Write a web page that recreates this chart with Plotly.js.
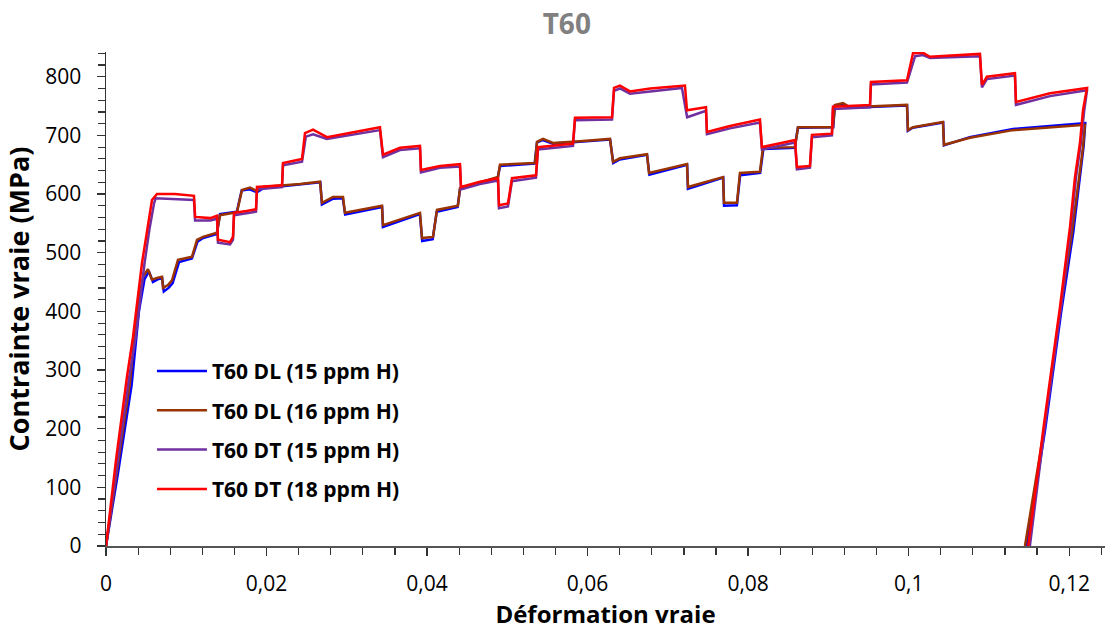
<!DOCTYPE html>
<html>
<head>
<meta charset="utf-8">
<script src="https://cdn.plot.ly/plotly-3.0.1.min.js"></script>
<style>html,body{margin:0;padding:0;background:#fff;}#chart{width:1107px;height:631px;}</style>
</head>
<body>
<div id="chart"></div>
<script>
// Series names
const seriesNames = ["T60 DL (15 ppm H)", "T60 DL (16 ppm H)", "T60 DT (15 ppm H)", "T60 DT (18 ppm H)"];
const seriesColors = ["#0000FF", "#993300", "#7030A0", "#FF0000"];

// T60 DL (15 ppm H) — blue
const dl15Strain = [0,0.0015,0.0032,0.0041,0.0048,0.00535,0.00585,0.0065,0.007,0.0072,0.0078,0.0083,0.0091,0.0107,0.0114,0.0121,0.0138,0.0142,0.0163,0.0169,0.0179,0.0188,0.0196,0.0242,0.0267,0.0269,0.0283,0.0295,0.0298,0.0344,0.0345,0.0391,0.0394,0.0407,0.0412,0.0438,0.0441,0.0488,0.0491,0.0534,0.0537,0.0544,0.0557,0.0590,0.0628,0.0632,0.0640,0.0674,0.0677,0.0724,0.0725,0.0769,0.0770,0.0786,0.0790,0.0815,0.0819,0.0858,0.0862,0.0906,0.0908,0.0918,0.0927,0.0998,0.0999,0.1005,0.1043,0.1044,0.1076,0.1130,0.1220,0.1218,0.1211,0.1205,0.1190,0.1170,0.1147];
const dl15Stress = [0,125,275,400,455,468,450,455,456,434,440,448,484,490,519,525,532,566,570,606,608,603,610,616,620,582,592,593,565,578,544,566,520,523,570,578,608,628,648,652,688,692,686,689,693,653,659,667,633,650,609,628,580,581,632,636,677,679,713,714,751,753,747,751,708,713,722,683,697,711,721,682,602,534,399,198,0];

// T60 DL (16 ppm H) — brown
const dl16Strain = [0,0.0014,0.0030,0.0039,0.00461,0.00523,0.00573,0.00635,0.00698,0.0071,0.00772,0.00822,0.00897,0.01071,0.01134,0.01208,0.01383,0.0142,0.01632,0.01694,0.01794,0.01881,0.01956,0.02417,0.02666,0.02691,0.02828,0.02953,0.02977,0.03438,0.03451,0.03912,0.03937,0.04074,0.04124,0.04385,0.0441,0.04884,0.04908,0.05344,0.0537,0.05444,0.05569,0.05905,0.06279,0.06316,0.06403,0.0674,0.06765,0.07238,0.07251,0.07687,0.07699,0.07861,0.07898,0.08147,0.08185,0.08584,0.08621,0.09057,0.09082,0.09182,0.09269,0.09979,0.09991,0.10054,0.10427,0.1044,0.10764,0.11299,0.12196,0.12172,0.12097,0.12034,0.11885,0.11686,0.11449];
const dl16Stress = [0,130,280,407,459,472,454,457,459,440,445,453,488,493,522,527,534,564,569,607,611,605,612,617,621,585,595,595,568,580,547,568,525,527,573,580,610,629,650,653,689,694,687,690,694,655,661,668,636,651,612,629,585,585,636,638,679,680,714,714,752,755,748,752,709,714,723,684,696,709,718,680,602,534,399,198,0];

// T60 DT (15 ppm H) — purple
const dt15Strain = [0,0.0014,0.0029,0.0037,0.0048,0.0054,0.0060,0.0062,0.0086,0.01096,0.0111,0.0130,0.01383,0.01395,0.01545,0.01582,0.01595,0.01869,0.01881,0.02193,0.02205,0.02442,0.0249,0.0258,0.0275,0.0304,0.03413,0.03451,0.03663,0.03912,0.03924,0.04161,0.0441,0.04423,0.04659,0.04884,0.04896,0.05008,0.05058,0.05357,0.05382,0.05818,0.05843,0.06304,0.06329,0.06403,0.06528,0.0678,0.0715,0.07175,0.0724,0.07475,0.07487,0.07774,0.08147,0.08172,0.08584,0.08608,0.0877,0.08795,0.09044,0.09057,0.09518,0.0953,0.09979,0.1008,0.10178,0.10265,0.10888,0.10913,0.10975,0.11324,0.11337,0.11761,0.12222,0.12185,0.12145,0.12085,0.12022,0.1196,0.11898,0.117,0.1151];
const dt15Stress = [0,140,289,356,482,539,585,593,592,590,555,555,558,517,514,522,564,570,608,612,649,655,698,702,694,700,709,663,675,678,637,645,647,608,617,623,576,579,622,628,676,682,726,727,776,780,771,775,781,781,731,742,702,712,722,676,688,642,645,697,700,745,748,787,790,835,837,832,835,782,796,802,752,767,777,740,687,629,544,476,407,208,0];

// T60 DT (18 ppm H) — red
const dt18Strain = [0,0.00125,0.00262,0.00336,0.00448,0.0051,0.00573,0.00635,0.0086,0.01096,0.0111,0.0130,0.01383,0.01395,0.01545,0.01582,0.01595,0.0175,0.01869,0.01881,0.02193,0.02205,0.02442,0.02479,0.02579,0.02753,0.0304,0.03413,0.03451,0.03663,0.03912,0.03924,0.04161,0.0441,0.04423,0.04659,0.04884,0.04896,0.05008,0.05058,0.05357,0.05382,0.05818,0.05843,0.06304,0.06329,0.06403,0.06528,0.0678,0.07213,0.07238,0.07475,0.07487,0.07774,0.08147,0.08172,0.08584,0.08608,0.0877,0.08795,0.09044,0.09057,0.09518,0.0953,0.09979,0.10054,0.10178,0.10265,0.10888,0.10913,0.10975,0.11324,0.11337,0.11761,0.12222,0.12172,0.12134,0.12072,0.1201,0.11947,0.11885,0.11686,0.1149];
const dt18Stress = [0,147,289,356,482,539,590,600,600,597,561,559,563,522,518,527,568,571,574,612,615,653,660,704,710,697,704,714,667,679,682,641,648,651,612,621,627,581,584,627,632,680,686,730,731,781,785,775,780,785,743,748,706,716,727,680,692,646,648,701,703,749,752,791,794,840,841,834,839,786,800,806,757,772,781,743,687,629,544,476,407,208,0];

// Axis tick values
const xTickStep = 0.02, xMinorStep = 0.004;
const yTickStep = 100, yMinorStep = 20;

const xs = [dl15Strain, dl16Strain, dt15Strain, dt18Strain];
const ys = [dl15Stress, dl16Stress, dt15Stress, dt18Stress];

const FONT = "Open Sans, Lato, sans-serif";
const traces = xs.map((x, i) => ({
  type: "scatter",
  mode: "lines",
  x: x,
  y: ys[i],
  name: seriesNames[i],
  legendgroup: "g" + i,
  line: {color: seriesColors[i], width: 2.5},
  hoverinfo: "skip"
}));

const layout = {
  width: 1107,
  height: 631,
  margin: {l: 106, r: 2, t: 52, b: 85, autoexpand: false},
  paper_bgcolor: "#ffffff",
  plot_bgcolor: "#ffffff",
  separators: ", ",
  showlegend: true,
  font: {family: FONT, color: "#000000"},
  title: {
    text: "T60",
    font: {family: FONT, size: 28, color: "#808080", weight: "bold"},
    xref: "container", x: 0.512, xanchor: "center",
    yref: "container", y: 0.962, yanchor: "middle"
  },
  xaxis: {
    range: [0, 0.12446],
    dtick: xTickStep,
    tick0: 0,
    ticks: "outside",
    ticklen: 8,
    tickwidth: 1.3,
    tickcolor: "#333333",
    showline: true,
    linecolor: "#555555",
    linewidth: 1.5,
    showgrid: false,
    zeroline: false,
    ticklabelstandoff: 10,
    tickfont: {family: FONT, size: 21, color: "#000000"},
    minor: {dtick: xMinorStep, ticks: "outside", ticklen: 7, tickwidth: 1.2, tickcolor: "#333333", showgrid: false},
    title: {text: "Déformation vraie", font: {family: FONT, size: 24, color: "#000000", weight: "bold"}, standoff: 10},
    automargin: false
  },
  yaxis: {
    range: [0, 842.2],
    dtick: yTickStep,
    tick0: 0,
    ticks: "outside",
    ticklen: 8,
    tickwidth: 1.3,
    tickcolor: "#333333",
    showline: true,
    linecolor: "#333333",
    linewidth: 1.5,
    showgrid: false,
    zeroline: false,
    ticksuffix: "\u00a0\u00a0",
    tickfont: {family: FONT, size: 21, color: "#000000"},
    minor: {dtick: yMinorStep, ticks: "outside", ticklen: 7, tickwidth: 1.2, tickcolor: "#333333", showgrid: false},
    title: {text: "Contrainte vraie (MPa)", font: {family: FONT, size: 27, color: "#000000", weight: "bold"}, standoff: 10},
    automargin: false
  },
  legend: {
    x: 0.046, xanchor: "left",
    y: 0.395, yanchor: "top",
    bgcolor: "rgba(0,0,0,0)",
    borderwidth: 0,
    font: {family: FONT, size: 21, color: "#000000", weight: "bold"},
    tracegroupgap: 9,
    itemwidth: 50,
    traceorder: "grouped"
  }
};

Plotly.newPlot("chart", traces, layout, {staticPlot: true, displayModeBar: false});
</script>
</body>
</html>
